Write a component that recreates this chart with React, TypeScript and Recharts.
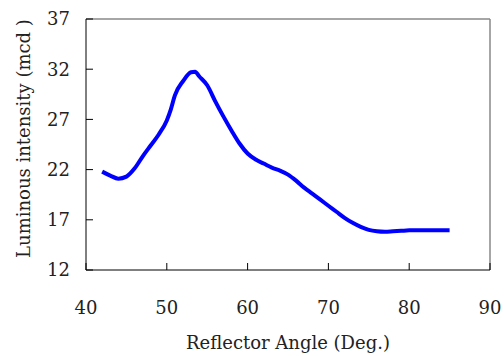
import { LineChart, Line, XAxis, YAxis, ReferenceLine } from "recharts"

// angle (deg)
const angles = [
  42, 43, 44, 45, 46, 47, 48, 49, 50, 50.5, 51, 52, 53, 53.5, 54, 55, 56, 57, 58, 59, 60,
  61, 62, 63, 64, 65, 66, 67, 68, 69, 70, 71, 72, 73, 74, 75, 76, 77, 78, 79, 80,
  81, 82, 83, 84, 85,
]
// luminous intensity (mcd)
const intensity = [
  21.8, 21.4, 21.1, 21.3, 22.1, 23.3, 24.4, 25.5, 26.9, 28.0, 29.4, 30.8, 31.7, 31.75, 31.3,
  30.4, 28.8, 27.3, 25.9, 24.6, 23.6, 23.0, 22.6, 22.2, 21.9, 21.5, 20.9, 20.2, 19.6, 19.0,
  18.4, 17.8, 17.2, 16.7, 16.3, 16.0, 15.85, 15.8, 15.85, 15.9, 15.95, 15.95, 15.95, 15.95,
  15.95, 15.95,
]
const xTicks = [40, 50, 60, 70, 80, 90]
const yTicks = [12, 17, 22, 27, 32, 37]

const data = angles.map((a, i) => ({ angle: a, value: intensity[i] }))

const font = "'DejaVu Serif'"
const tickStyle = { fontSize: 18, fill: "#222", fontFamily: font }

const YTitle = (props: any) => {
  const vb = props.viewBox
  const cx = 24
  const cy = vb.y + vb.height / 2 - 6
  return (
    <text
      x={cx}
      y={cy}
      dy="0.35em"
      textAnchor="middle"
      style={{ fontFamily: font, fontSize: 18, fill: "#222" }}
      transform={`rotate(-90, ${cx}, ${cy})`}
    >
      Luminous intensity (mcd )
    </text>
  )
}

export default function App() {
  return (
    <div style={{ position: "absolute", left: 0, top: 0, background: "#fff" }}>
      <LineChart
        width={504}
        height={356}
        data={data}
        margin={{ top: 19, right: 14, bottom: 0, left: 0 }}
      >
        <XAxis
          dataKey="angle"
          type="number"
          domain={[40, 90]}
          ticks={xTicks}
          height={86}
          tickSize={-7}
          tickMargin={38}
          stroke="#000"
          tick={tickStyle}
          interval={0}
          label={{
            value: "Reflector Angle (Deg.)",
            position: "insideBottom",
            offset: 7,
            style: { fontFamily: font, fontSize: 18, fill: "#222" },
          }}
        />
        <YAxis
          type="number"
          domain={[12, 37]}
          ticks={yTicks}
          width={86}
          tickSize={-7}
          tickMargin={23}
          stroke="#000"
          tick={tickStyle}
          interval={0}
          label={{ content: YTitle }}
        />
        <ReferenceLine y={37} stroke="#888" strokeWidth={1.5} />
        <ReferenceLine x={90} stroke="#888" strokeWidth={1.5} />
        <Line
          type="monotone"
          dataKey="value"
          stroke="#0000ff"
          strokeWidth={4}
          dot={false}
          isAnimationActive={false}
        />
      </LineChart>
    </div>
  )
}
